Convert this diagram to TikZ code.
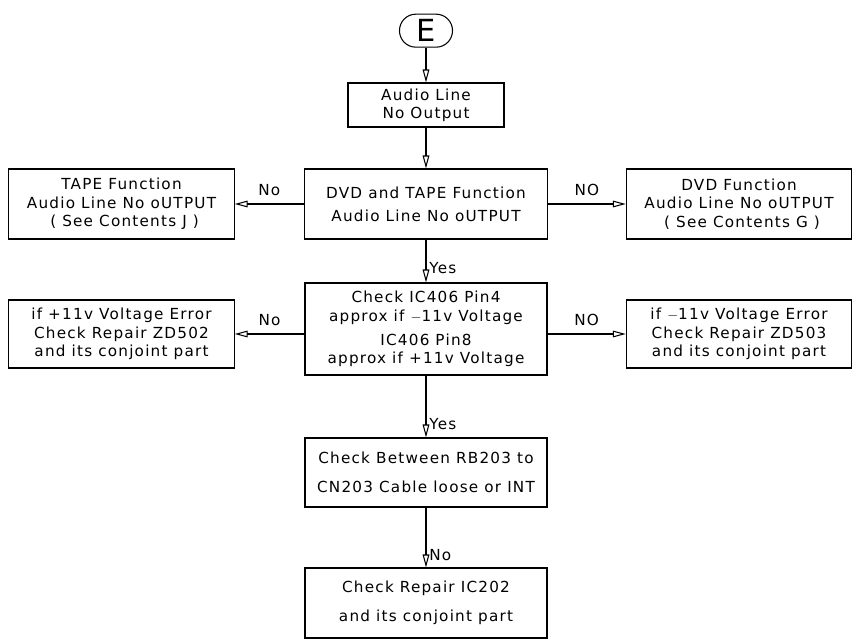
\documentclass[tikz,border=0pt]{standalone}
\usepackage{fontspec}
\setmainfont{DejaVu Sans}[LetterSpace=8]
\usepackage{tikz}
\usetikzlibrary{arrows.meta}

\begin{document}
\begin{tikzpicture}[
  >={Triangle[open,length=3.9mm,width=2mm]},
  line width=0.9pt,
  every node/.style={font=\fontsize{13}{15.6}\selectfont},
  procbox/.style={draw, align=center, minimum width=7.26cm, minimum height=2.1cm},
  sidebox/.style={draw, align=center, minimum width=6.76cm, minimum height=2.1cm}
]
  \useasboundingbox (-12.78,6.12) rectangle (12.99,-13.11);
  \node[draw, rounded corners=4.9mm, minimum width=1.59cm, minimum height=0.99cm, inner sep=0pt, font=\fontsize{26}{28}\selectfont] (E) at (0,5.2) {E};
  \node[procbox, minimum width=4.68cm, minimum height=1.32cm] (audio) at (0,2.97) {Audio Line\\No Output};
  \node[procbox, minimum width=7.29cm] (both) at (0,0) {DVD and TAPE Function\\[4pt]Audio Line No oUTPUT};
  \node[sidebox] (tape) at (-9.135,0) {TAPE Function\\Audio Line No oUTPUT\\\ ( See Contents J )};
  \node[sidebox] (dvd) at (9.39,0) {DVD Function\\Audio Line No oUTPUT\\\ ( See Contents G )};
  \node[procbox, minimum height=2.76cm] (ic406) at (0,-3.75) {Check IC406 Pin4\\approx if $-$11v Voltage\\[5pt]IC406 Pin8\\approx if +11v Voltage};
  \node[sidebox, minimum height=2.04cm] (zd502) at (-9.135,-3.9) {if +11v Voltage Error\\Check Repair ZD502\\and its conjoint part};
  \node[sidebox, minimum height=2.04cm] (zd503) at (9.39,-3.9) {if $-$11v Voltage Error\\Check Repair ZD503\\and its conjoint part};
  \node[procbox, minimum height=2.07cm] (rb203) at (0,-8.055) {Check Between RB203 to\\[9pt]CN203 Cable loose or INT};
  \node[procbox] (ic202) at (0,-11.97) {Check Repair IC202\\[9pt]and its conjoint part};

  \draw[->] (E) -- (audio);
  \draw[->] (audio) -- (both);
  \draw[->] (both) -- node[above=3pt] {No} (tape);
  \draw[->] (both) -- node[above=3pt] {NO} (dvd);
  \draw[->] (both) -- node[right=-1pt, pos=0.66] {Yes} (ic406);
  \draw[->] (ic406.west |- zd502.east) -- node[above=3pt] {No} (zd502);
  \draw[->] (ic406.east |- zd503.west) -- node[above=3pt] {NO} (zd503);
  \draw[->] (ic406) -- node[right=-1pt, pos=0.78] {Yes} (rb203);
  \draw[->] (rb203) -- node[right=-1pt, pos=0.79] {No} (ic202);
\end{tikzpicture}
\end{document}
